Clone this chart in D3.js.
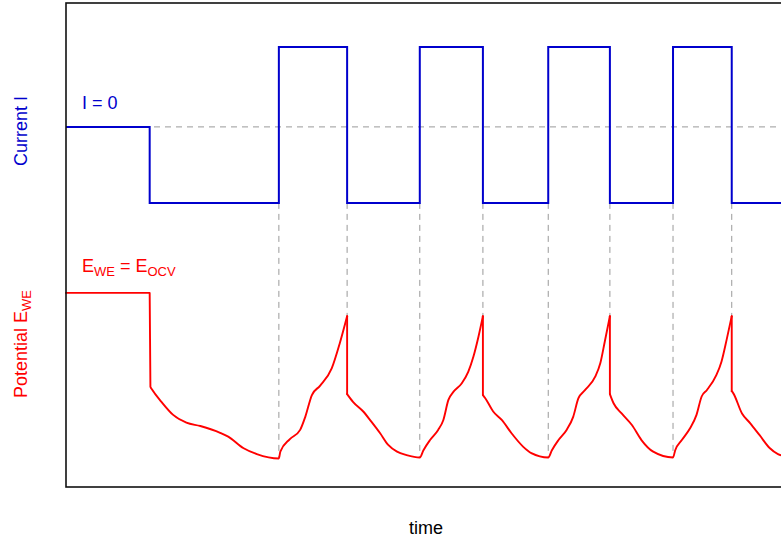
<html>
  <head>
    <script src="https://d3js.org/d3.v7.min.js" charset="utf-8"></script>
    <style>
      body { margin: 0; background: #fff; }
      text { font-family: "Liberation Sans", Arial, sans-serif; }
    </style>
  </head>
  <body>
    <script>
      // current I: step signal (time, level)
      var currentTime = [0, 11.4, 29.0, 38.3, 48.2, 56.8, 65.7, 74.1, 82.7, 90.7, 100]
      var currentLevel = [74.4, 58.7, 90.9, 58.7, 90.9, 58.7, 90.9, 58.7, 90.9, 58.7, 58.7]
      var zeroLevel = 74.4

      // potential E_WE (time, value)
      var potTime = [0, 11.4, 11.5, 11.7, 13.0, 14.6, 16.4, 18.3, 21.0, 22.1, 24.2, 26.0, 29.0,
        29.2, 30.5, 31.9, 32.6, 33.5, 34.6, 36.2, 37.3, 38.3,
        38.3, 39.1, 40.5, 41.6, 42.8, 43.9, 45.1, 46.4, 48.2,
        48.7, 49.6, 50.7, 51.4, 52.1, 52.8, 53.9, 54.8, 55.5, 56.2, 56.8,
        56.8, 57.1, 58.2, 59.4, 60.7, 62.3, 63.4, 65.7,
        66.2, 67.1, 68.2, 69.1, 69.8, 70.7, 72.1, 72.8, 73.4, 74.1,
        74.1, 74.6, 75.7, 77.1, 78.4, 80.0, 82.7,
        83.0, 83.9, 85.0, 85.9, 86.6, 87.3, 88.6, 89.3, 90.0, 90.7,
        90.7, 90.9, 92.1, 93.2, 94.5, 95.9, 97.0, 98.6]
      var potValue = [40.1, 40.1, 20.7, 20.2, 17.6, 14.9, 13.3, 12.6, 11.2, 10.4, 8.0, 6.8, 5.9,
        7.3, 9.9, 11.8, 14.5, 19.0, 20.9, 24.5, 29.7, 35.3,
        19.2, 17.6, 15.6, 13.5, 11.1, 8.7, 7.3, 6.6, 6.1,
        7.6, 9.7, 11.8, 13.8, 18.0, 19.7, 21.4, 23.8, 26.9, 31.1, 35.3,
        19.0, 18.4, 15.6, 13.8, 11.1, 8.3, 7.0, 6.1,
        7.6, 9.7, 11.8, 14.5, 18.3, 20.0, 22.8, 25.6, 30.0, 35.3,
        19.2, 17.3, 15.2, 12.8, 9.7, 7.3, 6.1,
        7.6, 9.7, 12.1, 14.9, 18.7, 20.0, 23.1, 25.9, 30.4, 35.3,
        19.8, 19.4, 15.2, 13.2, 10.7, 8.0, 6.8, 6.2]

      var width = 781
      var height = 543
      var margin = { top: 3, right: -19, bottom: 56, left: 66 }

      var svg = d3.select("body").append("svg")
        .attr("width", width)
        .attr("height", height)

      var x = d3.scaleLinear().domain([0, 100]).range([margin.left, width - margin.right])
      var y = d3.scaleLinear().domain([0, 100]).range([height - margin.bottom, margin.top])

      var current = currentTime.map(function (t, i) { return [t, currentLevel[i]] })
      var potential = potTime.map(function (t, i) { return [t, potValue[i]] })

      // split the potential trace where it jumps (same time twice)
      var segments = [[]]
      potential.forEach(function (p, i) {
        if (i > 0 && p[0] === potential[i - 1][0]) segments.push([])
        segments[segments.length - 1].push(p)
      })
      var jumps = []
      for (var k = 1; k < segments.length; k++) {
        jumps.push([segments[k - 1][segments[k - 1].length - 1], segments[k][0]])
      }

      var lineSmooth = d3.line().curve(d3.curveMonotoneX)
        .x(function (d) { return x(d[0]) })
        .y(function (d) { return y(d[1]) })
      var lineStraight = d3.line()
        .x(function (d) { return x(d[0]) })
        .y(function (d) { return y(d[1]) })

      // I = 0 reference line
      svg.append("line")
        .attr("x1", x(0)).attr("x2", x(100))
        .attr("y1", y(zeroLevel)).attr("y2", y(zeroLevel))
        .attr("stroke", "#999").attr("stroke-width", 1)
        .attr("stroke-dasharray", "6,5")

      // dashed guides from current switch down to the potential curve
      var switches = currentTime.slice(2, currentTime.length - 1)
      svg.selectAll(".guide")
        .data(switches)
        .enter().append("line")
        .attr("class", "guide")
        .attr("x1", function (t) { return x(t) }).attr("x2", function (t) { return x(t) })
        .attr("y1", y(d3.min(currentLevel)))
        .attr("y2", function (t) {
          return y(d3.max(potential.filter(function (p) { return p[0] === t }), function (p) { return p[1] }))
        })
        .attr("stroke", "#999").attr("stroke-width", 1)
        .attr("stroke-dasharray", "6,5")

      svg.append("path")
        .datum(current)
        .attr("fill", "none")
        .attr("stroke", "#0000cd")
        .attr("stroke-width", 2)
        .attr("d", d3.line().curve(d3.curveStepAfter)
          .x(function (d) { return x(d[0]) })
          .y(function (d) { return y(d[1]) }))

      var red = svg.append("g")
        .attr("fill", "none")
        .attr("stroke", "#ff0000")
        .attr("stroke-width", 1.9)
        .attr("stroke-linejoin", "round")
        .attr("stroke-linecap", "round")
      red.selectAll(".seg")
        .data(segments)
        .enter().append("path")
        .attr("class", "seg")
        .attr("d", lineSmooth)
      red.selectAll(".jump")
        .data(jumps)
        .enter().append("path")
        .attr("class", "jump")
        .attr("d", lineStraight)

      // plot box (right side runs off the picture)
      svg.append("rect")
        .attr("x", x(0)).attr("y", y(100))
        .attr("width", x(100) - x(0) + 10)
        .attr("height", y(0) - y(100))
        .attr("fill", "none")
        .attr("stroke", "#111").attr("stroke-width", 1.6)

      // labels
      svg.append("text")
        .attr("transform", "translate(27," + 131 + ") rotate(-90)")
        .attr("text-anchor", "middle")
        .attr("fill", "#0000cd")
        .attr("font-size", 18)
        .text("Current I")

      var pl = svg.append("text")
        .attr("transform", "translate(27," + 344 + ") rotate(-90)")
        .attr("text-anchor", "middle")
        .attr("fill", "#ff0000")
        .attr("font-size", 18)
      pl.append("tspan").text("Potential E")
      pl.append("tspan").attr("font-size", 13).attr("dy", 4).text("WE")

      svg.append("text")
        .attr("x", 82).attr("y", 109)
        .attr("fill", "#0000cd")
        .attr("font-size", 18)
        .text("I = 0")

      var eq = svg.append("text")
        .attr("x", 82).attr("y", 272)
        .attr("fill", "#ff0000")
        .attr("font-size", 18)
      eq.append("tspan").text("E")
      eq.append("tspan").attr("font-size", 13).attr("dy", 4).text("WE")
      eq.append("tspan").attr("dy", -4).text(" = E")
      eq.append("tspan").attr("font-size", 13).attr("dy", 4).text("OCV")

      svg.append("text")
        .attr("x", 426).attr("y", 534)
        .attr("text-anchor", "middle")
        .attr("fill", "#000")
        .attr("font-size", 18)
        .text("time")
    </script>
  </body>
</html>
